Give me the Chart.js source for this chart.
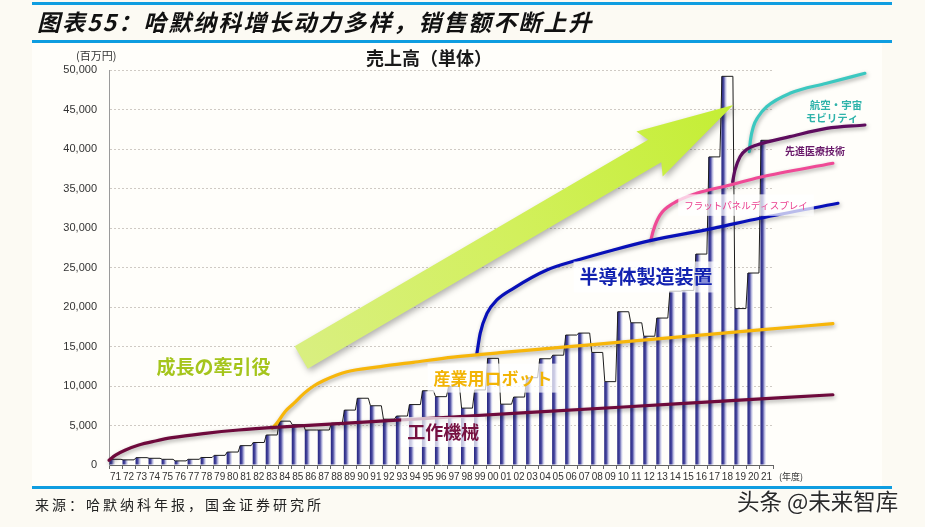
<!DOCTYPE html>
<html><head><meta charset="utf-8">
<script src="https://cdn.jsdelivr.net/npm/chart.js@4.4.1/dist/chart.umd.min.js"></script>
<style>
html,body{margin:0;padding:0;background:#fcfaf3;}
#wrap{position:relative;width:925px;height:527px;overflow:hidden;background:#fcfaf3;}
#panel{position:absolute;left:32px;top:43px;width:850px;height:443px;background:#fffefa;}
#c{position:absolute;left:0;top:0;}
.bl{position:absolute;left:32px;width:860px;height:3px;background:#0f9de0;}
.tx{position:absolute;white-space:nowrap;}
#title{left:37px;top:8px;font:italic bold 23px "Noto Sans CJK SC";letter-spacing:2px;color:#111;line-height:26px;}
#src{left:35px;top:495px;font:14px "Noto Sans CJK SC";letter-spacing:3px;color:#222;line-height:18px;}
#wm{left:737px;top:487px;font:22.5px "Noto Sans CJK SC";color:#2a2a2a;line-height:26px;text-shadow:0 0 2px #fff,0 0 2px #fff;}
#ct{left:366px;top:46px;font:bold 18px "Noto Sans CJK JP";color:#1a1a1a;line-height:22px;}
#unit{left:76px;top:48px;font:11px "Noto Sans CJK JP";color:#333;line-height:14px;}
#nd{left:779px;top:471px;font:9px "Noto Sans CJK JP";color:#333;line-height:12px;}
</style></head>
<body><div id="wrap">
<div id="panel"></div>
<div class="bl" style="top:2px"></div>
<div class="bl" style="top:40px"></div>
<div class="bl" style="top:486px"></div>
<canvas id="c" width="925" height="527"></canvas>
<div class="tx" id="title">图表55：哈默纳科增长动力多样，销售额不断上升</div>
<div class="tx" id="ct">売上高（単体）</div>
<div class="tx" id="unit">(百万円)</div>
<div class="tx" id="nd">(年度)</div>
<div class="tx" id="src">来源：哈默纳科年报，国金证券研究所</div>
<div class="tx" id="wm">头条 @未来智库</div>
</div>
<script>
// ---- data ----
const years = ['71','72','73','74','75','76','77','78','79','80','81','82','83','84','85','86','87','88','89','90',
  '91','92','93','94','95','96','97','98','99','00','01','02','03','04','05','06','07','08','09','10',
  '11','12','13','14','15','16','17','18','19','20','21'];
const sales = [720,650,930,850,720,520,720,950,1220,1640,2450,2850,3800,5550,5100,4430,4430,5300,6950,8450,
  7500,5800,6200,7650,9400,8650,9950,7200,9500,13500,7700,8600,11050,13450,13900,16450,16700,14250,10550,19400,
  18000,16300,18600,22000,22100,26700,39000,49200,19800,24300,41100];
const yTicks = [0,5000,10000,15000,20000,25000,30000,35000,40000,45000,50000];

// growth curves: [year index, value]
const curveMachineTool = [[-0.5,600],[0,1250],[0.77,1900],[1.79,2530],[3.07,3040],[4.35,3460],[6.91,4010],[9.46,4430],[12.53,4800],[20.34,5550],[31.85,6650],[43.36,7760],[55.1,8890]];
const curveRobot = [[12.05,4680],[12.4,5300],[13.05,6800],[13.69,7800],[14.5,9100],[15.22,10000],[16.0,10700],[17.78,11800],[20.34,12450],[22.87,13000],[25.94,13650],[29.55,14220],[34.15,14880],[38.76,15550],[43.36,16210],[49.5,17100],[55.1,17900]];
const curveSemi = [[27.76,14140],[28.01,16670],[28.53,19200],[29.29,20890],[30.57,22370],[33.13,24680],[35.69,26040],[38.24,27220],[41.06,28400],[45.9,29960],[49.5,31230],[55.49,33130]];
const curveFPD = [[41.11,28400],[41.32,29750],[41.83,31650],[42.85,33130],[44.64,34390],[47.2,35440],[49.5,36420],[55.1,38190]];
const curveMedical = [[47.4,35860],[47.58,37340],[47.97,39030],[48.5,39960],[49.25,40510],[51.8,41560],[54.62,42620],[57.56,43040]];
const curveAero = [[48.68,39660],[48.77,41140],[48.99,42820],[49.35,44050],[50.01,45350],[51.8,47050],[54.62,48320],[57.56,49580]];
const arrowFrom = [14.26,13600];
const arrowTo = [47.45,45570];

// ---- annotations ----
const notes = [
  {t:'成長の牽引役', p:[7.52,12400], c:'#a5c51c', f:'bold 19px "Noto Sans CJK JP"', box:false},
  {t:'産業用ロボット', p:[29.0,11000], c:'#f2b406', f:'bold 17px "Noto Sans CJK JP"', box:true},
  {t:'工作機械', p:[25.17,4180], c:'#761040', f:'bold 18px "Noto Sans CJK JP"', box:true},
  {t:'半導体製造装置', p:[40.75,23800], c:'#1222b0', f:'bold 19px "Noto Sans CJK JP"', box:true},
  {t:'フラットパネルディスプレイ', p:[48.43,32900], c:'#ea4090', f:'9.5px "Noto Sans CJK JP"', box:true},
  {t:'先進医療技術', p:[53.72,39750], c:'#6a1a6a', f:'bold 10px "Noto Sans CJK JP"', box:false},
  {t:'航空・宇宙', p:[55.33,45570], c:'#2fb3aa', f:'bold 10.5px "Noto Sans CJK JP"', box:false},
  {t:'モビリティ', p:[55.03,43920], c:'#2fb3aa', f:'bold 10.5px "Noto Sans CJK JP"', box:false}
];

const toXY = a => a.map(p => ({x:p[0], y:p[1]}));
const topLine = [];
sales.forEach((v,i) => { topLine.push({x:i-0.42,y:v}); topLine.push({x:i+0.42,y:v}); });

function curve(data,color){
  return {type:'line', data:toXY(data), xAxisID:'xc', borderColor:color, borderWidth:3.2,
    pointRadius:0, cubicInterpolationMode:'monotone', clip:false, order:1, glow:true, borderCapStyle:'round'};
}

const barFill = (c) => {
  const chart = c.chart, xs = chart.scales && chart.scales.x;
  if (!xs || c.dataIndex == null || !xs.width) return '#7070b8';
  const x = xs.getPixelForValue(c.dataIndex);
  const w = xs.width / years.length * 0.86;
  const g = chart.ctx.createLinearGradient(x - w/2, 0, x + w/2, 0);
  g.addColorStop(0, '#2c2c84');
  g.addColorStop(0.16, '#4848a0');
  g.addColorStop(0.36, '#d4d4ec');
  g.addColorStop(0.5, '#ffffff');
  g.addColorStop(0.68, '#c2c2e2');
  g.addColorStop(0.86, '#5e5eaa');
  g.addColorStop(1, '#2c2c84');
  return g;
};

const deco = {
  id:'deco',
  beforeDatasetDraw(chart, args){
    const ds = chart.data.datasets[args.index];
    if (ds.glow){ const ctx=chart.ctx; ctx.save(); ctx.shadowColor='rgba(0,0,0,0.35)'; ctx.shadowBlur=4; ctx.shadowOffsetX=1; ctx.shadowOffsetY=2; }
  },
  afterDatasetDraw(chart, args){
    const ds = chart.data.datasets[args.index];
    if (ds.glow) chart.ctx.restore();
    if (args.index === 1) drawArrow(chart);
  },
  afterDatasetsDraw(chart){
    const ctx = chart.ctx, xs = chart.scales.xc, ys = chart.scales.y;
    notes.forEach(n => {
      const x = xs.getPixelForValue(n.p[0]), y = ys.getPixelForValue(n.p[1]);
      ctx.save();
      ctx.font = n.f;
      ctx.textAlign='center'; ctx.textBaseline='middle';
      const w = ctx.measureText(n.t).width;
      const fs = parseFloat(n.f.match(/([\d.]+)px/)[1]);
      if (n.box){ ctx.fillStyle='rgba(255,255,255,0.72)'; ctx.fillRect(x-w/2-6, y-fs/2-6, w+12, fs+12); }
      else { ctx.shadowColor='rgba(255,255,255,0.9)'; ctx.shadowBlur=3; }
      ctx.fillStyle=n.c;
      ctx.fillText(n.t, x, y);
      ctx.restore();
    });
  }
};

function drawArrow(chart){
  const ctx = chart.ctx, xs = chart.scales.xc, ys = chart.scales.y;
  const x0=xs.getPixelForValue(arrowFrom[0]), y0=ys.getPixelForValue(arrowFrom[1]);
  const x1=xs.getPixelForValue(arrowTo[0]), y1=ys.getPixelForValue(arrowTo[1]);
  const dx=x1-x0, dy=y1-y0, L=Math.hypot(dx,dy), ux=dx/L, uy=dy/L, nx=-uy, ny=ux;
  const sw=13, hw=26, hl=91;
  const bx=x1-ux*hl, by=y1-uy*hl;
  ctx.save();
  ctx.beginPath();
  ctx.moveTo(x0+nx*sw, y0+ny*sw);
  ctx.lineTo(bx+nx*sw, by+ny*sw);
  ctx.lineTo(bx+nx*hw - ux*6, by+ny*hw - uy*6);
  ctx.lineTo(x1, y1);
  ctx.lineTo(bx-nx*hw - ux*6, by-ny*hw - uy*6);
  ctx.lineTo(bx-nx*sw, by-ny*sw);
  ctx.lineTo(x0-nx*sw, y0-ny*sw);
  ctx.closePath();
  const g = ctx.createLinearGradient(x0,y0,x1,y1);
  g.addColorStop(0,'#d9ef80'); g.addColorStop(0.5,'#d2f05c'); g.addColorStop(1,'#c4ee34');
  ctx.shadowColor='rgba(0,0,0,0.3)'; ctx.shadowBlur=6; ctx.shadowOffsetX=2; ctx.shadowOffsetY=3;
  ctx.fillStyle=g; ctx.fill();
  ctx.restore();
}

const fixRange = s => { s.min = -0.5; s.max = years.length - 0.5; };

new Chart(document.getElementById('c'), {
  type:'bar',
  data:{
    labels: years,
    datasets:[
      {type:'bar', data: sales, backgroundColor: barFill, borderWidth:0, barPercentage:0.86, categoryPercentage:1, order:10},
      {type:'line', data: topLine, xAxisID:'xc', borderColor:'#1c1c1c', borderWidth:1, pointRadius:0, tension:0, order:5},
      curve(curveMachineTool,'#6e0a3c'),
      curve(curveRobot,'#f7b60a'),
      curve(curveSemi,'#0810b8'),
      curve(curveFPD,'#ef4a96'),
      curve(curveMedical,'#5e0c5e'),
      curve(curveAero,'#3cc8c0')
    ]
  },
  options:{
    responsive:false, animation:false,
    layout:{padding:{top:70,right:152,left:0,bottom:0}},
    plugins:{legend:{display:false}, tooltip:{enabled:false}},
    scales:{
      x:{type:'category', offset:true,
        grid:{display:true, drawOnChartArea:false, drawTicks:true, tickLength:4, offset:true, color:'#666'},
        border:{color:'#666'},
        ticks:{color:'#333', font:{family:'Liberation Sans', size:10}, autoSkip:false, maxRotation:0, padding:2},
        afterFit(s){ s.height = 62; }
      },
      xc:{type:'linear', display:false, offset:false, grid:{offset:false}, bounds:'data', afterDataLimits:fixRange, afterBuildTicks:fixRange},
      y:{min:0, max:50000,
        afterBuildTicks(s){ s.ticks = yTicks.map(v => ({value:v})); },
        grid:{color:'#cfcac4', drawTicks:false},
        border:{color:'#9a9a9a', dash:[2,2]},
        ticks:{color:'#333', font:{family:'Liberation Sans', size:11}, padding:12,
          callback:v => v.toLocaleString('en-US')},
        afterFit(s){ s.width = 109; }
      }
    }
  },
  plugins:[deco]
});
</script>
</body></html>
